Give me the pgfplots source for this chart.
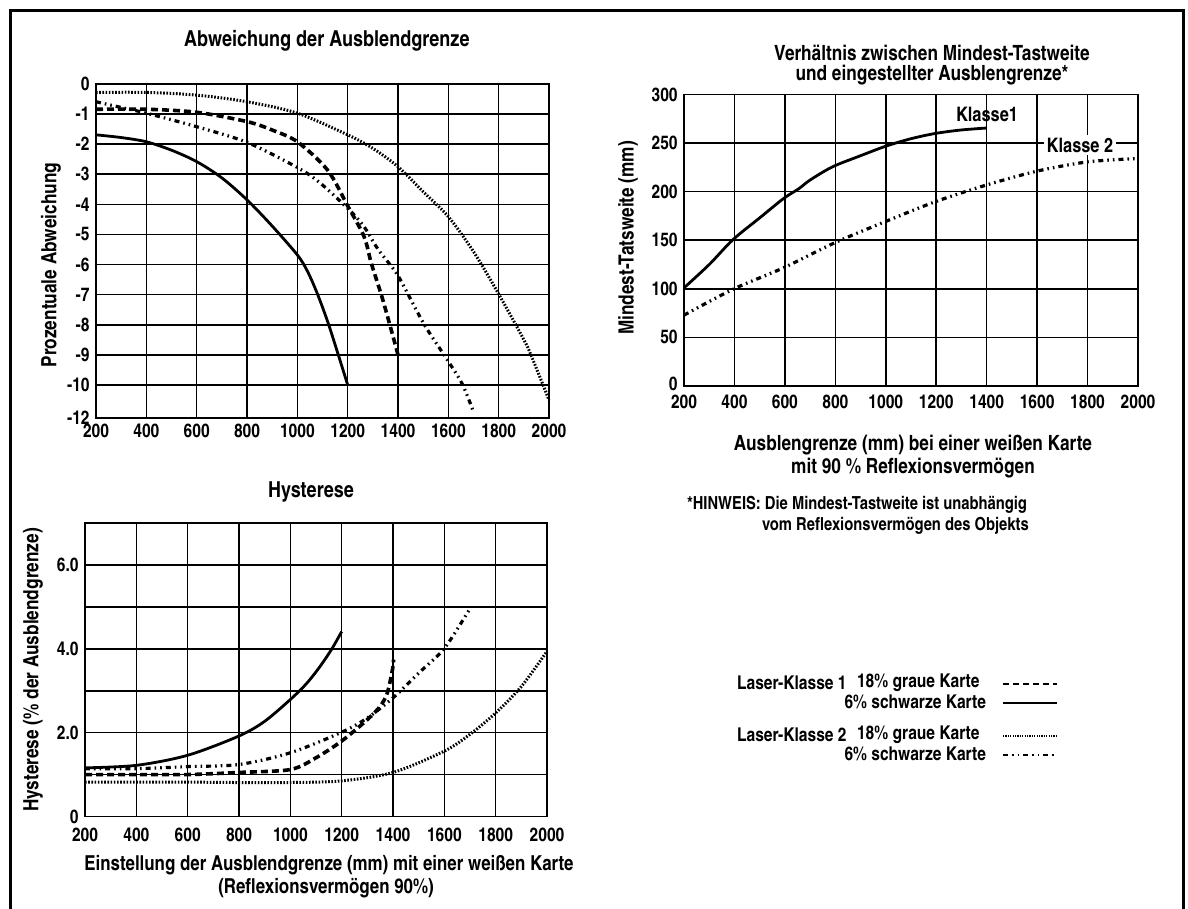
\documentclass[border=0pt]{standalone}
\usepackage{pgfplots}
\pgfplotsset{compat=1.18}
\usepackage{fontspec}
\setmainfont{texgyreheroscn}[Extension=.otf, UprightFont=*-bold, BoldFont=*-bold, ItalicFont=*-bolditalic, BoldItalicFont=*-bolditalic]
\newcommand{\fs}[1]{\fontsize{#1}{#1}\selectfont}
\pgfplotsset{
  myax/.style={
    scale only axis, anchor=south west,
    xmin=200, xmax=2000,
    xtick={200,400,...,2000},
    xticklabels={200,400,600,800,1000,1200,1400,1600,1800,2000},
    grid=major, major grid style={black, line width=0.8pt},
    axis line style={black, line width=0.8pt},
    major tick length=0pt,
    tick label style={font=\fs{9.5}, inner sep=0.5pt},
    yticklabel style={xshift=-2.5pt},
    /pgf/number format/assume math mode=true,
    clip=false,
  },
  k1grau/.style={black, line width=1.8pt, dash pattern=on 3.5pt off 2pt, smooth},
  k1schwarz/.style={black, line width=1.4pt, smooth},
  k2grau/.style={black, line width=1.5pt, dash pattern=on 0.8pt off 0.8pt, smooth},
  k2schwarz/.style={black, line width=1.6pt, dash pattern=on 2.5pt off 2pt on 0.8pt off 2pt on 0.8pt off 2pt, smooth},
}
\begin{document}
\begin{tikzpicture}
\useasboundingbox (0,0) rectangle (594pt,454.5pt);

% ---------- Abweichung der Ausblendgrenze ----------
\begin{axis}[myax, at={(48pt,245.5pt)}, width=226.5pt, height=167pt,
  xticklabel style={yshift=-2.5pt},
  ymin=-11.1, ymax=0,
  ytick={-11.1,-10,-9,-8,-7,-6,-5,-4,-3,-2,-1,0},
  yticklabels={-12,-10,-9,-8,-7,-6,-5,-4,-3,-2,-1,0}]
\addplot[k1schwarz] coordinates {(200,-1.69) (300,-1.78) (400,-1.92) (500,-2.2) (600,-2.58) (700,-3.12) (800,-3.85) (900,-4.72) (1000,-5.68) (1040,-6.22) (1080,-6.98) (1127,-8.06) (1200,-10.0)};
\addplot[k1grau] coordinates {(200,-0.84) (400,-0.84) (600,-0.94) (800,-1.25) (900,-1.53) (1000,-1.92) (1120,-2.86) (1200,-4.05) (1265,-5.07) (1294,-5.96) (1336,-7.07) (1373,-8.17) (1400,-9.0)};
\addplot[k2schwarz] coordinates {(200,-0.59) (300,-0.78) (400,-0.97) (600,-1.42) (803,-1.95) (1005,-2.8) (1092,-3.3) (1207,-4.19) (1265,-4.74) (1322,-5.51) (1394,-6.29) (1452,-7.18) (1509,-8.06) (1596,-9.17) (1654,-9.95) (1697,-10.83)};
\addplot[k2grau] coordinates {(200,-0.28) (400,-0.28) (600,-0.37) (800,-0.59) (1000,-0.97) (1200,-1.69) (1300,-2.14) (1400,-2.75) (1500,-3.58) (1600,-4.41) (1700,-5.57) (1800,-6.98) (1900,-8.5) (1928,-9.0) (2000,-10.5)};
\end{axis}

% ---------- Mindest-Tastweite ----------
\begin{axis}[myax, at={(342pt,261.5pt)}, width=227pt, height=145.75pt,
  xticklabel style={yshift=-4pt},
  ymin=0, ymax=300,
  ytick={0,50,100,150,200,250,300},
  yticklabels={\raisebox{2pt}{0},50,100,150,200,250,300}]
\addplot[k1schwarz] coordinates {(200,101) (300,125) (394,150.6) (500,173) (595,193) (655,203) (700,212) (789,225.6) (900,237) (1000,246.8) (1100,254.5) (1198,260) (1300,263.5) (1400,265.5)};
\addplot[k2schwarz] coordinates {(200,72.9) (394,99.5) (595,121.7) (796,147.2) (1000,169.4) (1198,189.8) (1400,206.9) (1601,221.2) (1802,230.7) (2000,234.1)};
\end{axis}

% ---------- Hysterese ----------
\begin{axis}[myax, at={(42.5pt,46.25pt)}, width=231pt, height=146.75pt,
  xticklabel style={yshift=-5pt},
  ymin=0, ymax=7,
  ytick={0,1,2,3,4,5,6,7},
  yticklabels={0,,2.0,,4.0,,6.0,}]
\addplot[k1schwarz] coordinates {(200,1.16) (400,1.22) (600,1.46) (800,1.92) (900,2.27) (1000,2.79) (1060,3.15) (1110,3.53) (1160,3.98) (1200,4.41)};
\addplot[k1grau] coordinates {(200,1.0) (400,1.0) (600,1.0) (800,1.05) (1000,1.12) (1100,1.4) (1200,1.8) (1300,2.31) (1350,2.63) (1378,2.95) (1399,3.54) (1402,3.74)};
\addplot[k2schwarz] coordinates {(200,1.14) (400,1.14) (600,1.19) (800,1.24) (1000,1.52) (1200,2.01) (1300,2.35) (1400,2.83) (1500,3.42) (1600,4.01) (1696,4.92)};
\addplot[k2grau] coordinates {(200,0.82) (400,0.82) (600,0.82) (800,0.81) (1000,0.81) (1200,0.85) (1400,1.05) (1600,1.56) (1700,1.96) (1800,2.47) (1900,3.1) (2000,3.94)};
\end{axis}

% ---------- texts (pixel coordinates of the reference) ----------
\begin{scope}[shift={(0,454.5pt)}, x=0.5pt, y=-0.5pt]
\draw[line width=1.5pt] (10,912) -- (10,11) -- (1183,11) -- (1183,912);
\node[font=\fs{11}, anchor=west] at (177,41) {Abweichung der Ausblendgrenze};
\node[font=\fs{10.5}, rotate=90] at (51,265) {Prozentuale Abweichung};
\node[font=\fs{10.5}, align=center, inner sep=0pt] at (932,65) {Verhältnis zwischen Mindest-Tastweite\\[-0.4pt]und eingestellter Ausblengrenze*};
\node[font=\fs{10.5}, rotate=90] at (628,238) {Mindest-Tatsweite (mm)};
\node[font=\fs{10}] at (987,114) {Klasse1};
\node[font=\fs{10}, fill=white, inner sep=1.5pt] at (1080,145) {Klasse 2};
\node[font=\fs{10.5}] at (913,445) {Ausblengrenze (mm) bei einer weißen Karte};
\node[font=\fs{10.5}] at (913,468) {mit 90 \% Reflexionsvermögen};
\node[font=\fs{9}, anchor=west] at (680,505) {*HINWEIS: Die Mindest-Tastweite ist unabhängig};
\node[font=\fs{9}, anchor=west] at (755,526) {vom Reflexionsvermögen des Objekts};
\node[font=\fs{11}] at (311,492) {Hysterese};
\node[font=\fs{10.5}, rotate=90] at (33,670) {Hysterese (\% der Ausblendgrenze)};
\node[font=\fs{10.3}] at (329,865) {Einstellung der Ausblendgrenze (mm) mit einer weißen Karte};
\node[font=\fs{10.3}] at (326,888) {(Reflexionsvermögen 90\%)};
% legend
\node[font=\fs{9.5}, anchor=west] at (730,683) {Laser-Klasse 1};
\node[font=\fs{9.5}, anchor=west] at (850,683) {18\% graue Karte};
\node[font=\fs{9.5}, anchor=east] at (993,702) {6\% schwarze Karte};
\node[font=\fs{9.5}, anchor=west] at (730,735) {Laser-Klasse 2};
\node[font=\fs{9.5}, anchor=west] at (850,735) {18\% graue Karte};
\node[font=\fs{9.5}, anchor=east] at (993,754) {6\% schwarze Karte};
\draw[black, line width=1.1pt, dash pattern=on 3pt off 2pt] (1003,684) -- (1057,684);
\draw[black, line width=1.2pt] (1003,703) -- (1057,703);
\draw[black, line width=1.1pt, dash pattern=on 0.6pt off 0.6pt] (1003,736) -- (1057,736);
\draw[black, line width=1.1pt, dash pattern=on 2.5pt off 2pt on 0.8pt off 2pt on 0.8pt off 2pt] (1003,755) -- (1057,755);
\end{scope}
\end{tikzpicture}
\end{document}
